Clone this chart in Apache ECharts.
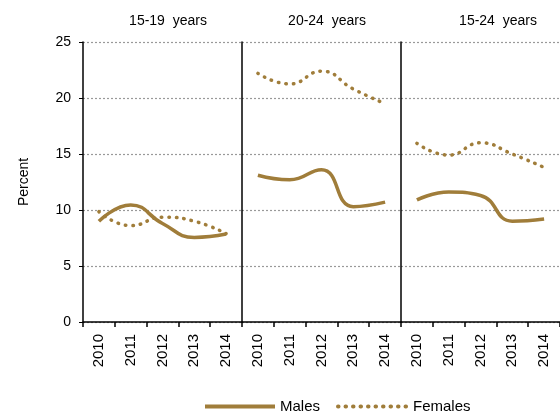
<!DOCTYPE html>
<html>
<head>
<meta charset="utf-8">
<script src="https://cdn.jsdelivr.net/npm/echarts@6/dist/echarts.min.js"></script>
<style>
  html, body { margin: 0; padding: 0; background: #fff; }
  #chart { width: 560px; height: 419px; }
</style>
</head>
<body>
<div id="chart"></div>
<script>
const years = ["2010", "2011", "2012", "2013", "2014"];
const panels = ["15-19  years", "20-24  years", "15-24  years"];
const males = [
  [9.0, 10.45, 8.8, 7.55, 7.85],
  [13.1, 12.7, 13.6, 10.3, 10.7],
  [10.9, 11.6, 11.3, 9.0, 9.2]
];
const females = [
  [9.85, 8.6, 9.35, 9.0, 7.9],
  [22.2, 21.25, 22.4, 20.8, 19.5],
  [15.95, 14.9, 16.0, 15.0, 13.8]
];
const yTicks = [0, 5, 10, 15, 20, 25];

const color = "#A07D3A";
const font = "Liberation Sans, Arial, sans-serif";
const lefts = [83, 242, 401];
const widths = [159, 159, 159];
const titleX = [163, 322, 493];

const myChart = echarts.init(document.getElementById("chart"));

const grids = [], xAxes = [], yAxes = [], series = [], titles = [];
panels.forEach((p, i) => {
  grids.push({ left: lefts[i], width: widths[i], top: 42, height: 280 });
  xAxes.push({
    type: "category",
    gridIndex: i,
    data: years,
    boundaryGap: true,
    axisLine: { lineStyle: { color: "#000", width: 1.5 } },
    axisTick: { show: true, length: 5, lineStyle: { color: "#000", width: 1.5 } },
    axisLabel: { rotate: 90, color: "#000", fontSize: 15, fontFamily: font, margin: 12 }
  });
  yAxes.push({
    type: "value",
    gridIndex: i,
    min: yTicks[0],
    max: yTicks[yTicks.length - 1],
    interval: 5,
    name: i === 0 ? "Percent" : "",
    nameLocation: "middle",
    nameGap: 52,
    nameTextStyle: { color: "#000", fontSize: 14, fontFamily: font },
    axisLine: { show: true, lineStyle: { color: "#000", width: 1.5 } },
    axisTick: { show: i === 0, length: 4, lineStyle: { color: "#000" } },
    axisLabel: { show: i === 0, color: "#000", fontSize: 14, fontFamily: font, margin: 12 },
    splitLine: { show: true, lineStyle: { color: "#999", type: [2, 2], width: 1.2 } }
  });
  series.push({
    name: "Males",
    type: "line",
    xAxisIndex: i,
    yAxisIndex: i,
    data: males[i],
    smooth: 0.5,
    symbol: "none",
    lineStyle: { color: color, width: 3.5 },
    itemStyle: { color: color }
  });
  series.push({
    name: "Females",
    type: "line",
    xAxisIndex: i,
    yAxisIndex: i,
    data: females[i],
    smooth: 0.5,
    symbol: "none",
    lineStyle: { color: color, width: 3.5, type: [0.5, 7], cap: "round" },
    itemStyle: { color: color }
  });
  titles.push({
    text: p,
    left: titleX[i],
    top: 9,
    textAlign: "center",
    textStyle: { color: "#000", fontSize: 14, fontWeight: "normal", fontFamily: font }
  });
});

myChart.setOption({
  animation: false,
  title: titles,
  grid: grids,
  xAxis: xAxes,
  yAxis: yAxes,
  legend: {
    data: ["Males", "Females"],
    bottom: 0,
    left: 198,
    itemWidth: 70,
    itemHeight: 10,
    itemGap: 16,
    itemStyle: { opacity: 0 },
    lineStyle: { width: 4 },
    textStyle: { color: "#000", fontSize: 15, fontFamily: font }
  },
  series: series
});
</script>
</body>
</html>
